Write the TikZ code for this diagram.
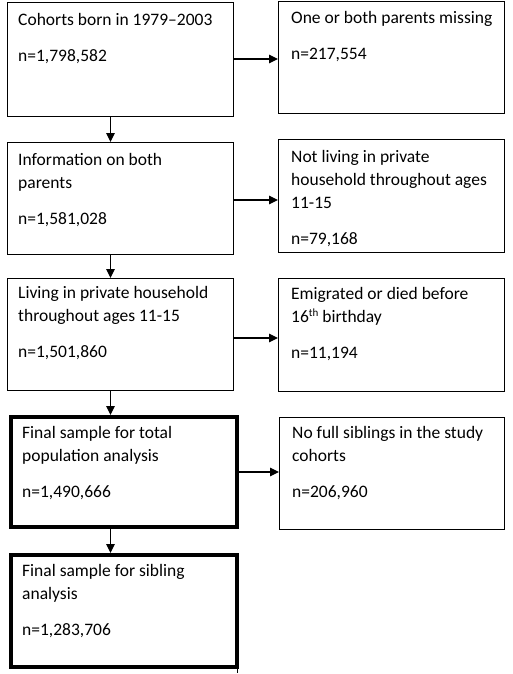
\documentclass[tikz,border=0pt]{standalone}
\usepackage{fontspec}
\setmainfont{Carlito}
\usetikzlibrary{arrows.meta,calc}
\begin{document}
\begin{tikzpicture}[x=1pt,y=-1pt,
  thinbox/.style={draw=black, line width=1.3pt, anchor=north west, inner sep=0pt, minimum width=226pt},
  thickbox/.style={draw=black, line width=4pt, anchor=north west, inner sep=0pt, minimum width=226pt},
  txt/.style={anchor=north west, inner sep=0pt, align=left, font=\fontsize{17.5}{23}\selectfont},
  arr/.style={draw=black, line width=1.2pt, -{Triangle[length=9pt,width=8.5pt]}},
  plain/.style={draw=black, line width=1pt}]
\useasboundingbox[fill=white] (0,0) rectangle (512,674);
% boxes
\node[thinbox, minimum height=114pt] (b1) at (7,2) {};
\node[thinbox, minimum height=112pt] (b2) at (278,1) {};
\node[thinbox, minimum height=112pt] (b3) at (7,142) {};
\node[thinbox, minimum height=113pt] (b4) at (278,139) {};
\node[thinbox, minimum height=112pt] (b5) at (7,278) {};
\node[thinbox, minimum height=113pt] (b6) at (278,278) {};
\node[thickbox, minimum height=110pt] (b7) at (9,415) {};
\node[thinbox, minimum width=225pt, minimum height=112pt] (b8) at (279,417) {};
\node[thickbox, minimum height=112pt] (b9) at (9,553) {};
% texts
\node[txt] (t1) at (18,8.9) {\strut Cohorts born in 1979–2003\\[13pt] n=1,798,582};
\node[txt] (t2) at (291,6.9) {\strut One or both parents missing\\[13pt] n=217,554};
\node[txt] (t3) at (18,148.9) {\strut Information on both\\ parents\\[13pt] n=1,581,028};
\node[txt] (t4) at (291,145.9) {\strut Not living in private\\ household throughout ages\\ 11-15\\[13pt] n=79,168};
\node[txt] (t5) at (18,281.9) {\strut Living in private household\\ throughout ages 11-15\\[13pt] n=1,501,860};
\node[txt] (t6) at (291,282.9) {\strut Emigrated or died before\\ 16{\fontsize{11}{11}\selectfont\raisebox{5.5pt}{th}} birthday\\[13pt] n=11,194};
\node[txt] (t7) at (22,421.9) {\strut Final sample for total\\ population analysis\\[13pt] n=1,490,666};
\node[txt] (t8) at (292,421.9) {\strut No full siblings in the study\\ cohorts\\[13pt] n=206,960};
\node[txt] (t9) at (22,560.4) {\strut Final sample for sibling\\ analysis\\[13pt] n=1,283,706};
% helper coordinates
\coordinate (ax) at (110.5,0);
\coordinate (y1) at (0,59);
\coordinate (y2) at (0,200);
\coordinate (y3) at (0,338);
\coordinate (y4) at (0,472);
\coordinate (tailtop) at (237,650);
\coordinate (tailbot) at (237,673);
% vertical arrows
\draw[arr] (b1.south -| ax) -- (b3.north -| ax);
\draw[arr] (b3.south -| ax) -- (b5.north -| ax);
\draw[arr] (b5.south -| ax) -- (b7.north -| ax);
\draw[arr] (b7.south -| ax) -- (b9.north -| ax);
% horizontal arrows
\draw[arr] (b1.east |- y1) -- (b2.west |- y1);
\draw[arr] (b3.east |- y2) -- (b4.west |- y2);
\draw[arr] (b5.east |- y3) -- (b6.west |- y3);
\draw[arr] (b7.east |- y4) -- (b8.west |- y4);
% tail line
\draw[plain] (tailtop) -- (tailbot);
\end{tikzpicture}
\end{document}
